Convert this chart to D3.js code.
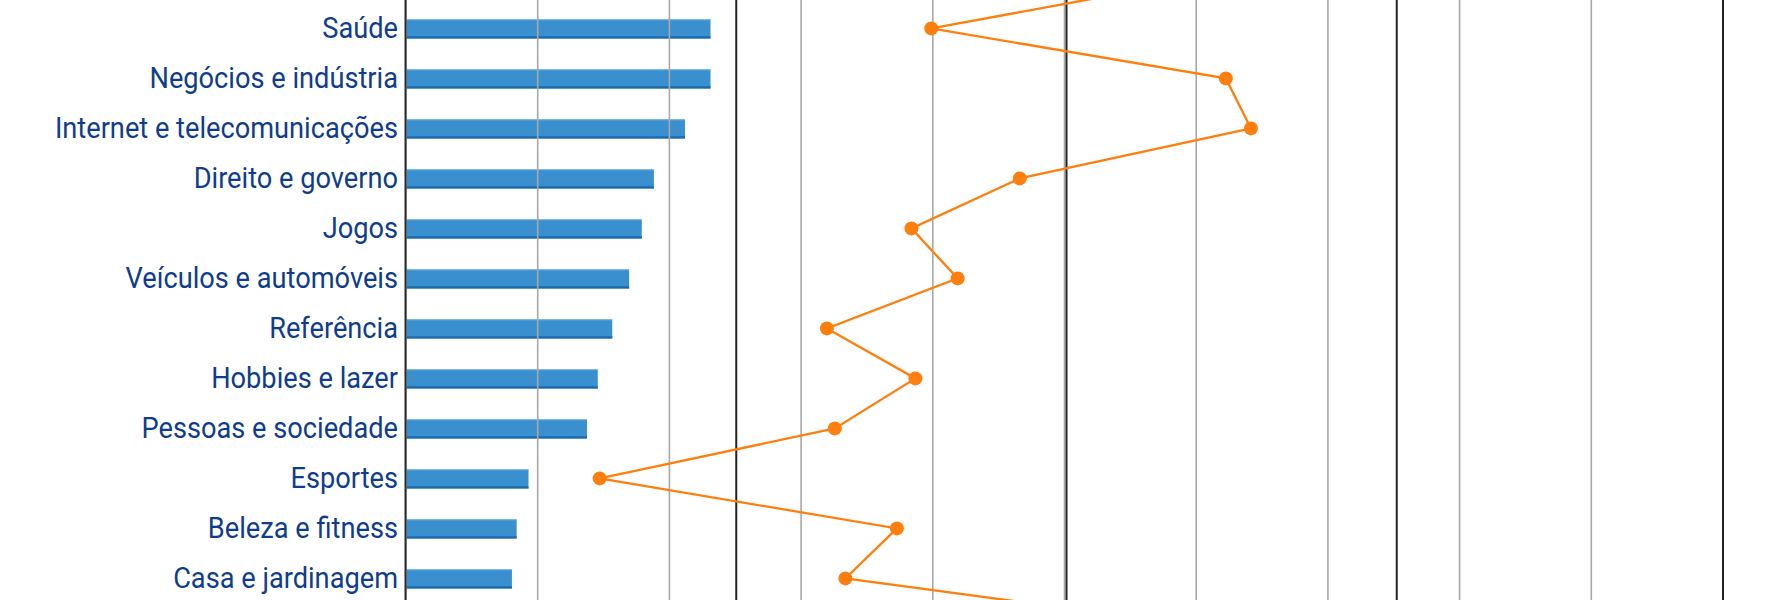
<!DOCTYPE html>
<html>
<head>
<meta charset="utf-8">
<script src="https://cdn.jsdelivr.net/npm/d3@7"></script>
<style>
  html, body { margin: 0; padding: 0; background: #fff; overflow: hidden; }
  svg { display: block; }
</style>
</head>
<body>
<svg id="chart" width="1780" height="600"></svg>
<script>
// Categories (first and last rows lie outside the visible frame; their names are not visible)
const categories = [
  "", "Saúde", "Negócios e indústria", "Internet e telecomunicações", "Direito e governo",
  "Jogos", "Veículos e automóveis", "Referência", "Hobbies e lazer",
  "Pessoas e sociedade", "Esportes", "Beleza e fitness", "Casa e jardinagem", ""
];
// Bar series (bottom axis)
const barValues = [null, 11.58, 11.58, 10.61, 9.43, 8.97, 8.49, 7.85, 7.30, 6.89, 4.67, 4.22, 4.04, null];
// Line series (secondary axis)
const lineValues = [60.4, 39.8, 62.1, 64.0, 46.5, 38.3, 41.8, 31.9, 38.6, 32.5, 14.7, 37.2, 33.3, 61.5];
// Axis ticks
const barTicks = [0, 5, 10, 15, 20, 25, 30, 35, 40, 45, 50];
const lineTicks = [25, 50, 75];

const svg = d3.select("#chart");
const left = 405.5, right = 1722.5;
const H = 600;

const xBar = d3.scaleLinear().domain([0, 50]).range([left, right]);
const xLine = d3.scaleLinear().domain([0, 100]).range([left, left + 1321]);
const y = d3.scaleBand().domain(d3.range(categories.length))
  .range([-46, -46 + 50 * categories.length])
  .paddingInner(0.62).paddingOuter(0.31);
const cy = i => y(i) + y.bandwidth() / 2;

// Bars
const bars = svg.append("g");
const barData = barValues.map((v, i) => ({ v, i })).filter(d => d.v != null);
bars.selectAll("rect.bar").data(barData).join("rect")
  .attr("class", "bar")
  .attr("x", xBar(0)).attr("y", d => y(d.i))
  .attr("width", d => xBar(d.v) - xBar(0)).attr("height", y.bandwidth())
  .attr("fill", "#3a8fce");
bars.selectAll("rect.edge").data(barData).join("rect")
  .attr("class", "edge")
  .attr("x", xBar(0)).attr("y", d => y(d.i) + y.bandwidth() - 2.2)
  .attr("width", d => xBar(d.v) - xBar(0)).attr("height", 2.2)
  .attr("fill", "#1a68ad");
bars.selectAll("rect.top").data(barData).join("rect")
  .attr("class", "top")
  .attr("x", xBar(0)).attr("y", d => y(d.i))
  .attr("width", d => xBar(d.v) - xBar(0)).attr("height", 1)
  .attr("fill", "#5fa6dc");

// Gray gridlines (bar axis); the outer one is the dark frame edge
const gBar = svg.append("g").attr("transform", `translate(0,${H})`)
  .call(d3.axisBottom(xBar).tickValues(barTicks).tickSize(H).tickSizeOuter(0).tickFormat(""));
gBar.select(".domain").remove();
gBar.selectAll(".tick line").attr("y2", -H)
  .attr("stroke", d => d === 50 ? "#222" : "#a8a8a8")
  .attr("stroke-width", d => d === 50 ? 2 : 1.6);

// Dark gridlines (line axis)
const gLine = svg.append("g").attr("transform", `translate(0,${H})`)
  .call(d3.axisBottom(xLine).tickValues(lineTicks).tickSize(H).tickSizeOuter(0).tickFormat(""));
gLine.select(".domain").remove();
gLine.selectAll(".tick line").attr("y2", -H).attr("stroke", "#222").attr("stroke-width", 2);

// Category axis labels
const gY = svg.append("g").attr("transform", `translate(${left},0)`)
  .call(d3.axisLeft(y).tickSize(0).tickPadding(8).tickFormat(i => categories[i]));
gY.select(".domain").attr("stroke", "#2a2a2a").attr("stroke-width", 2)
  .attr("d", `M0,0V${H}`);
gY.selectAll(".tick text")
  .attr("font-family", "Roboto, sans-serif").attr("font-size", 29)
  .attr("fill", "#0f3d8c").attr("dy", "0.3em")
  .attr("transform", "scale(0.9385,1)");
gY.selectAll(".tick").filter(i => categories[i] === "").remove();

// Line series
const line = d3.line().x(d => xLine(d.v)).y(d => cy(d.i) - 0.6);
const lineData = lineValues.map((v, i) => ({ v, i }));
svg.append("path").datum(lineData)
  .attr("d", line).attr("fill", "none")
  .attr("stroke", "#ff7f0e").attr("stroke-width", 2.3);
svg.append("g").selectAll("circle").data(lineData).join("circle")
  .attr("cx", d => xLine(d.v)).attr("cy", d => cy(d.i) - 0.6)
  .attr("r", 7).attr("fill", "#ff7f0e");
</script>
</body>
</html>
